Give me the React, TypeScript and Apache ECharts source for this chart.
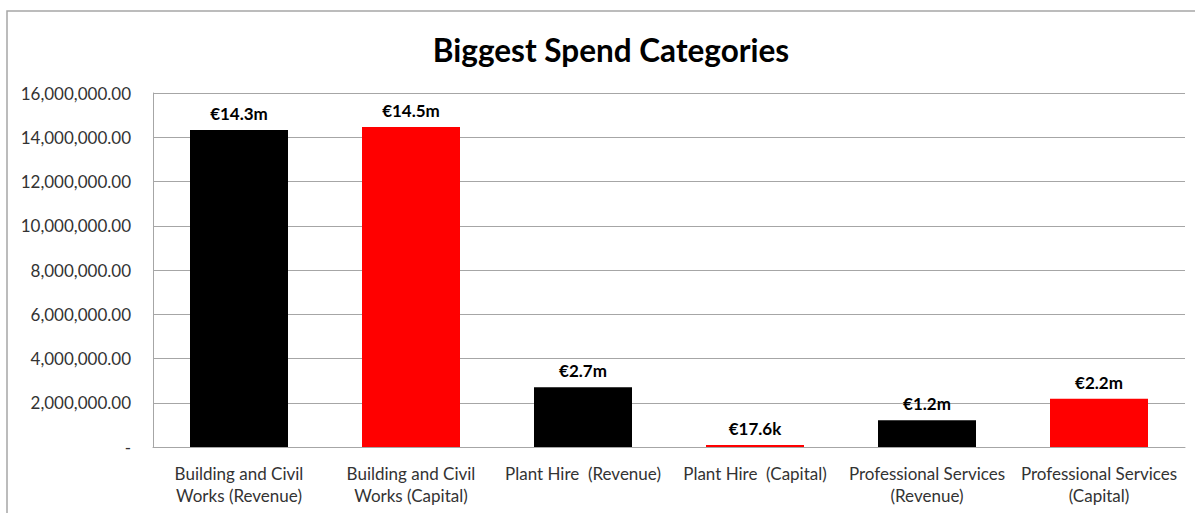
import React, { useEffect, useRef } from "react";
import * as echarts from "echarts";

const categories = [
  "Building and Civil\nWorks (Revenue)",
  "Building and Civil\nWorks (Capital)",
  "Plant Hire  (Revenue)",
  "Plant Hire  (Capital)",
  "Professional Services\n(Revenue)",
  "Professional Services\n(Capital)",
];
const spendValues = [14330000, 14460000, 2700000, 17600, 1210000, 2180000];
const barColors = ["#000000", "#ff0000", "#000000", "#ff0000", "#000000", "#ff0000"];
const yTicks = { min: 0, max: 16000000, interval: 2000000 };
const titleText = "Biggest Spend Categories";

const FONT = "Lato, 'Open Sans', sans-serif";

function fmtAxis(v: number): string {
  if (v === 0) return "-";
  const s = Math.round(v).toString().replace(/\B(?=(\d{3})+(?!\d))/g, ",");
  return s + ".00";
}

function fmtLabel(v: number): string {
  if (v >= 1e6) return "€" + (v / 1e6).toFixed(1) + "m";
  return "€" + (v / 1e3).toFixed(1) + "k";
}

export default function App() {
  const ref = useRef<HTMLDivElement>(null);
  useEffect(() => {
    if (!ref.current) return;
    const chart = echarts.init(ref.current, null, { renderer: "svg" });
    chart.setOption({
      animation: false,
      backgroundColor: "#ffffff",
      title: {
        text: titleText,
        left: 606,
        textAlign: "center",
        top: 29,
        textStyle: { fontFamily: FONT, fontSize: 31.5, fontWeight: "bold", color: "#000000" },
      },
      graphic: [
        {
          type: "rect",
          shape: { x: 7, y: 11, width: 1220, height: 540 },
          style: { fill: "none", stroke: "#a6a6a6", lineWidth: 1.5 },
          silent: true,
        },
      ],
      grid: { left: 153, right: 10, top: 93, bottom: 66, containLabel: false },
      xAxis: {
        type: "category",
        data: categories,
        axisLine: { show: true, lineStyle: { color: "#a6a6a6", width: 1 } },
        axisTick: { show: false },
        axisLabel: {
          interval: 0,
          margin: 15,
          fontFamily: FONT,
          fontSize: 17,
          lineHeight: 22,
          color: "#333333",
        },
      },
      yAxis: {
        type: "value",
        min: yTicks.min,
        max: yTicks.max,
        interval: yTicks.interval,
        axisLine: { show: true, lineStyle: { color: "#a6a6a6", width: 1 } },
        axisTick: { show: false },
        splitLine: { show: true, lineStyle: { color: "#a6a6a6", width: 1 } },
        axisLabel: {
          margin: 22,
          fontFamily: FONT,
          fontSize: 17,
          color: "#333333",
          formatter: (v: number) => fmtAxis(v),
        },
      },
      series: [
        {
          type: "bar",
          barWidth: 98,
          barMinHeight: 2,
          data: spendValues.map((v, i) => ({ value: v, itemStyle: { color: barColors[i] } })),
          label: {
            show: true,
            position: "top",
            distance: 8,
            fontFamily: FONT,
            fontSize: 17,
            fontWeight: "bold",
            color: "#000000",
            formatter: (p: any) => fmtLabel(p.value),
          },
        },
      ],
    });
    return () => chart.dispose();
  }, []);
  return (
    <div
      ref={ref}
      style={{ position: "fixed", left: 0, top: 0, width: 1195, height: 513 }}
    />
  );
}
